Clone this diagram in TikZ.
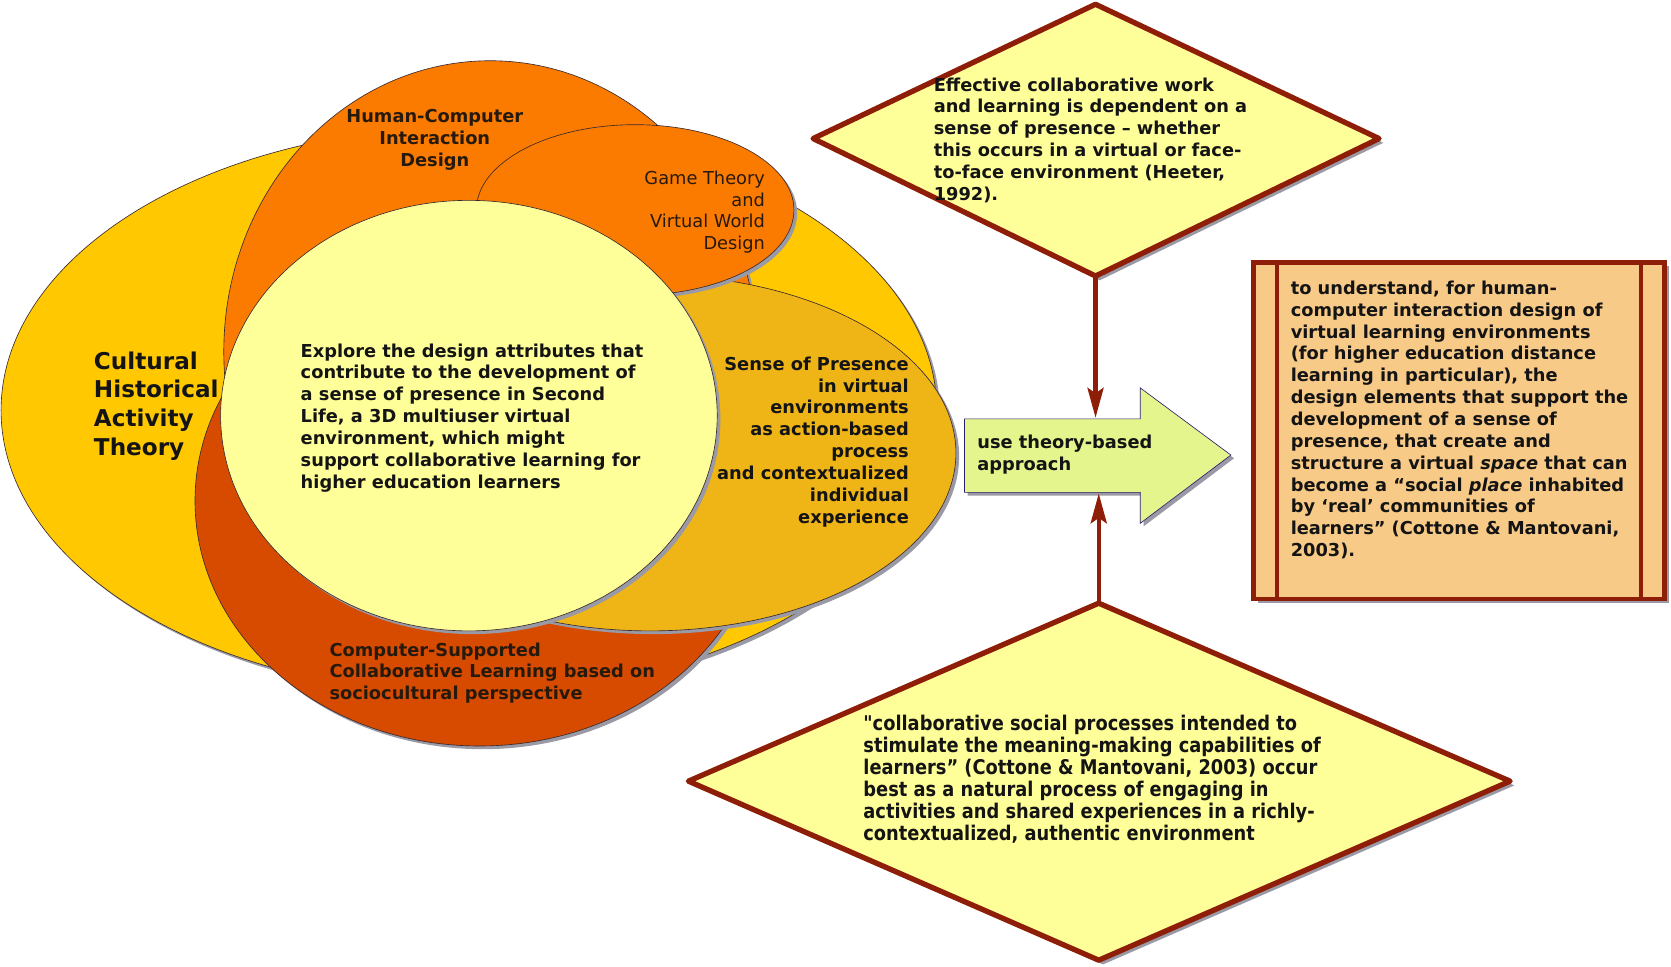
\documentclass[tikz,border=0pt]{standalone}
\usepackage{fontspec}
\setmainfont{DejaVu Sans}
\newfontfamily\condfont[FakeStretch=0.88]{DejaVu Sans}
\usetikzlibrary{arrows.meta}
\definecolor{cyel}{HTML}{FFC800}
\definecolor{corange}{HTML}{FB7B00}
\definecolor{cgold}{HTML}{EFB416}
\definecolor{cred}{HTML}{D74B00}
\definecolor{clight}{HTML}{FFFF99}
\definecolor{cdark}{HTML}{8E1E08}
\definecolor{carrow}{HTML}{E3F58C}
\definecolor{crect}{HTML}{F8CA88}
\definecolor{cshadow}{HTML}{9A9AA6}
\definecolor{cedge}{HTML}{3A2A30}
\definecolor{ctext}{HTML}{141414}
\newcommand\myblob[6][0]{%
  \fill[cshadow, rotate around={#1:(#2,#3)}] ($(#2,#3)+(3,3)$) ellipse [x radius=#4pt, y radius=#5pt];
  \filldraw[fill=#6, draw=cedge, line width=0.6pt, rotate around={#1:(#2,#3)}] (#2,#3) ellipse [x radius=#4pt, y radius=#5pt];}
\usetikzlibrary{calc}
\tikzset{
  txt/.style={font=\bfseries\fontsize{16.7}{20.5}\selectfont, inner sep=0pt, text=ctext},
  conn/.style={draw=cdark, line width=4pt, -{Stealth[length=28pt,width=15pt,inset=5pt]}},
  dia/.style={fill=clight, draw=cdark, line width=5pt, line join=round},
}
\begin{document}
\begin{tikzpicture}[x=1pt,y=-1pt]
\useasboundingbox (0,0) rectangle (1568,907);
% --- overlapping ellipses ---
\myblob{440}{385}{439}{266}{cyel}
\myblob{460}{330}{250}{273}{corange}
\myblob{450}{470}{267}{230}{cred}
\myblob{610}{425}{287}{167}{cgold}
\myblob{596}{197}{149}{80}{corange}
\myblob{440}{390}{233}{202}{clight}
% --- texts in ellipses ---
\node[txt, anchor=west, align=left, font=\bfseries\fontsize{21.7}{27}\selectfont] (chat) at (88,381) {Cultural\\Historical\\Activity\\Theory};
\node[txt, align=center, text=black!80!brown] (hci) at (408,131.5) {Human-Computer\\Interaction\\Design};
\node[txt, anchor=east, align=right, font=\fontsize{16.7}{20.5}\selectfont, text=black!80!brown] (gt) at (718,199) {Game Theory\\and\\Virtual World\\Design};
\node[txt, anchor=west, align=left] (core) at (282,392) {Explore the design attributes that\\contribute to the development of\\a sense of presence in Second\\Life, a 3D multiuser virtual\\environment, which might\\support collaborative learning for\\higher education learners};
\node[txt, anchor=east, align=right] (sop) at (853,414.5) {Sense of Presence\\in virtual\\environments\\as action-based\\process\\and contextualized\\individual\\experience};
\node[txt, anchor=west, align=left, text=black!80!brown] (cscl) at (309,631.5) {Computer-Supported\\Collaborative Learning based on\\sociocultural perspective};
% --- top diamond ---
\coordinate (d1t) at (1028,4);
\coordinate (d1l) at (763,130);
\coordinate (d1r) at (1294,130);
\coordinate (d1b) at (1028,259);
\fill[cshadow] ($(d1t)+(4,4)$) -- ($(d1r)+(4,4)$) -- ($(d1b)+(4,4)$) -- ($(d1l)+(4,4)$) -- cycle;
\draw[dia] (d1t) -- (d1r) -- (d1b) -- (d1l) -- cycle;
\node[txt, anchor=west, align=left] (t1) at (876,131.5) {Effective collaborative work\\and learning is dependent on a\\sense of presence – whether\\this occurs in a virtual or face-\\to-face environment (Heeter,\\1992).};
% --- bottom diamond ---
\coordinate (d2t) at (1031,566);
\coordinate (d2l) at (646,733);
\coordinate (d2r) at (1417,733);
\coordinate (d2b) at (1031,901);
\fill[cshadow] ($(d2t)+(4,4)$) -- ($(d2r)+(4,4)$) -- ($(d2b)+(4,4)$) -- ($(d2l)+(4,4)$) -- cycle;
\draw[dia] (d2t) -- (d2r) -- (d2b) -- (d2l) -- cycle;
\node[txt, anchor=west, align=left, font=\condfont\bfseries\fontsize{19}{20.6}\selectfont] (t2) at (810,731.5) {"collaborative social processes intended to\\stimulate the meaning-making capabilities of\\learners” (Cottone \& Mantovani, 2003) occur\\best as a natural process of engaging in\\activities and shared experiences in a richly-\\contextualized, authentic environment};
% --- block arrow ---
\coordinate (a1) at (905,393);
\coordinate (a2) at (1070,393);
\coordinate (a3) at (1070,364);
\coordinate (a4) at (1155,427);
\coordinate (a5) at (1070,491);
\coordinate (a6) at (1070,462);
\coordinate (a7) at (905,462);
\coordinate (atop) at (1028,392);
\coordinate (abot) at (1031,463);
\fill[cshadow] ($(a1)+(3,3)$) -- ($(a2)+(3,3)$) -- ($(a3)+(3,3)$) -- ($(a4)+(3,3)$) -- ($(a5)+(3,3)$) -- ($(a6)+(3,3)$) -- ($(a7)+(3,3)$) -- cycle;
\filldraw[fill=carrow, draw=cedge!70!blue, line width=0.6pt] (a1) -- (a2) -- (a3) -- (a4) -- (a5) -- (a6) -- (a7) -- cycle;
\node[txt, anchor=west, align=left] (use) at (917,426.5) {use theory-based\\approach};
% --- connectors ---
\draw[conn] (d1b) -- (atop);
\draw[conn] (d2t) -- (abot);
% --- right box ---
\coordinate (r1) at (1176,246);
\coordinate (r2) at (1562,562);
\fill[cshadow] ($(r1)+(4,4)$) rectangle ($(r2)+(4,4)$);
\fill[crect] (r1) rectangle (r2);
\draw[cdark, line width=4pt] (1198,246) -- (1198,562);
\draw[cdark, line width=4pt] (1540,246) -- (1540,562);
\draw[cdark, line width=4.5pt] (r1) rectangle (r2);
\node[txt, anchor=west, align=left] (goal) at (1211,394) {to understand, for human-\\computer interaction design of\\virtual learning environments\\(for higher education distance\\learning in particular), the\\design elements that support the\\development of a sense of\\presence, that create and\\structure a virtual \textit{space} that can\\become a “social \textit{place} inhabited\\by ‘real’ communities of\\learners” (Cottone \& Mantovani,\\2003).};
\end{tikzpicture}
\end{document}
